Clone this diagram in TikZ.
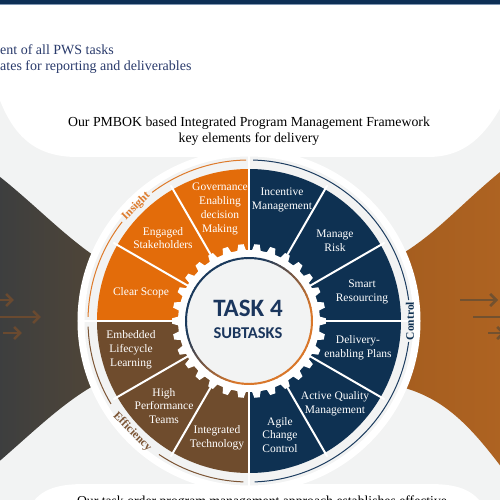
\documentclass[tikz,border=0pt]{standalone}
\usepackage{fontspec}
\setmainfont{Liberation Serif}
\newfontfamily\taskfont{Carlito}
\usetikzlibrary{arrows.meta}
\definecolor{bandnavy}{HTML}{0D2F55}
\definecolor{bandline}{HTML}{8097B3}
\definecolor{introblue}{HTML}{2A3B6C}
\definecolor{bggrey}{HTML}{F2F3F3}
\definecolor{fandark}{HTML}{3C3E3F}
\definecolor{fanmid}{HTML}{4F4538}
\definecolor{fanorange}{HTML}{A65E1F}
\definecolor{fanorangeb}{HTML}{AE6322}
\definecolor{arrowbrown}{HTML}{6A4A30}
\definecolor{arrowbrownb}{HTML}{73512F}
\definecolor{segorange}{HTML}{E36C0A}
\definecolor{segnavy}{HTML}{0E3152}
\definecolor{segbrown}{HTML}{6F4C2D}
\definecolor{arcorange}{HTML}{DE7A2A}
\definecolor{arcnavy}{HTML}{1D3D60}
\definecolor{arcbrown}{HTML}{7C5535}
\definecolor{tasknavy}{HTML}{1B365D}
\definecolor{ringnavy}{HTML}{1B3A5C}
\definecolor{ringorange}{HTML}{D9772A}
\tikzset{
  segtext/.style= {text=white, align=center, inner sep=0, font=\fontsize{11.5}{13.8}\selectfont},
  arclabel/.style= {inner sep=0, font=\fontsize{11.5}{12}\selectfont\bfseries},
  divider/.style= {white, line width=2pt, line cap=round},
  quarter/.style= {white, line width=2.6pt},
  arcline/.style= {line width=1pt},
  flow/.style= {line width=2.6pt, -{Straight Barb[length=6pt,width=12pt]}},
}

\begin{document}
\begin{tikzpicture}[x=1pt, y=1pt]
  \useasboundingbox (-249,-179) rectangle (251,321);
  \clip (-249,-179) rectangle (251,321);
  \fill[white] (-249,-179) rectangle (251,321);
  \fill[bggrey] (-249,-179) rectangle (251,260);
  \fill[white] (-259,326) -- (-259,251) .. controls (-244,196) and (-224,165) .. (-174,164)
    -- (181,164) .. controls (221,165) and (241,191) .. (261,231) -- (261,326) -- cycle;
  \fill[white] (-221,-189) .. controls (-211,-169) and (-194,-163) .. (-164,-163)
    -- (181,-163) .. controls (213,-163) and (227,-171) .. (237,-189) -- cycle;
  \fill[bandnavy] (-249,317) rectangle (251,321);
  \draw[bandline, line width=0.8pt] (-249,316.6) -- (251,316.6);

  \node[anchor=west, align=left, inner sep=0, text=introblue, font=\fontsize{14}{15.7}\selectfont] (intro) at (-249,261.6)
    {ent of all PWS tasks\\ates for reporting and deliverables};
  \node[align=center, inner sep=0, font=\fontsize{13.8}{15.6}\selectfont] (title) at (0,190)
    {Our PMBOK based Integrated Program Management Framework\\key elements for delivery};
  \node[anchor=base, inner sep=0, font=\fontsize{13.7}{16}\selectfont] (approach) at (13,-184)
    {Our task order program management approach establishes effective};

  \shade[left color=fandark, right color=fanmid] (-254,148) .. controls (-219,121) and (-189,89) .. (-156,66)
    -- (-156,-65) .. controls (-189,-84) and (-219,-114) .. (-254,-144) -- cycle;
  \shade[left color=fanorange, right color=fanorangeb] (256,153) .. controls (216,121) and (191,91) .. (156,69)
    -- (156,-67) .. controls (196,-79) and (221,-104) .. (256,-151) -- cycle;

  \coordinate (lin1) at (-254,21);  \coordinate (lout1) at (-235,21);
  \coordinate (lin2) at (-254,4);   \coordinate (lout2) at (-208,4);
  \coordinate (lin3) at (-246,-12); \coordinate (lout3) at (-227,-12);
  \coordinate (rin1) at (211,21);   \coordinate (rout1) at (249,21);
  \coordinate (rin2) at (224,4);    \coordinate (rout2) at (271,4);
  \coordinate (rin3) at (239,-12);  \coordinate (rout3) at (256,-12);
  \foreach \i in {1,2,3} {
    \draw[flow, arrowbrown] (lin\i) -- (lout\i);
    \draw[flow, arrowbrownb] (rin\i) -- (rout\i);
  }

  \fill[bggrey] (0,0) circle[radius=165pt];
  \draw[white, line width=7pt] (0,0) circle[radius=168pt];

  \fill[segorange] (0,0) -- (90:152pt) arc[start angle=90, end angle=180, radius=152pt] -- cycle;
  \fill[segbrown] (0,0) -- (180:152pt) arc[start angle=180, end angle=270, radius=152pt] -- cycle;
  \fill[segnavy] (0,0) -- (270:152pt) arc[start angle=270, end angle=450, radius=152pt] -- cycle;
  \foreach \a in {30,60,120,150,210,240,300,330}
    \draw[divider] (\a:70pt) -- (\a:156pt);
  \foreach \a in {0,90,180,270}
    \draw[quarter] (\a:70pt) -- (\a:166pt);

  \fill[white] (0:71pt) \foreach \i in {0,...,29} {
    -- ({\i*12-3.5}:71pt) -- ({\i*12-2}:77pt) -- ({\i*12+2}:77pt) -- ({\i*12+3.5}:71pt)
  } -- cycle;
  \fill[bggrey] (0,0) circle[radius=63pt];
  \foreach \a in {0,4,...,356} {
    \pgfmathtruncatemacro\mixp{max(0,min(100,50+90*cos(\a+2-135)))}
    \draw[line width=2pt, ringnavy!\mixp!ringorange] (\a:63pt) arc[start angle=\a, end angle=\a+4.5, radius=63pt];
  }
  \node[inner sep=0, text=tasknavy, font=\taskfont\bfseries\fontsize{25}{28}\selectfont] (task) at (-1,13) {TASK 4};
  \node[inner sep=0, text=tasknavy, font=\taskfont\bfseries\fontsize{16.5}{18}\selectfont] (sub) at (-1,-12) {SUBTASKS};

  \node[segtext] (govern) at (-29,112) {Governance\\Enabling\\decision\\Making};
  \node[segtext] (engaged) at (-86,83) {Engaged\\Stakeholders};
  \node[segtext] (scope) at (-108,28) {Clear Scope};
  \node[segtext] (incentive) at (33,121) {Incentive\\Management};
  \node[segtext] (risk) at (86,80) {Manage\\Risk};
  \node[segtext] (resourcing) at (113,29) {Smart\\Resourcing};
  \node[segtext] (plans) at (109,-27) {Delivery-\\enabling Plans};
  \node[segtext] (quality) at (86,-83) {Active Quality\\Management};
  \node[segtext] (agile) at (31,-114) {Agile\\Change\\Control};
  \node[segtext] (lifecycle) at (-118,-29) {Embedded\\Lifecycle\\Learning};
  \node[segtext] (teams) at (-85,-85) {High\\Performance\\Teams};
  \node[segtext] (technology) at (-32,-117) {Integrated\\Technology};

  \draw[arcline, arcorange] (91:161pt) arc[start angle=91, end angle=127, radius=161pt];
  \draw[arcline, arcorange] (142:161pt) arc[start angle=142, end angle=178.5, radius=161pt];
  \draw[arcline, arcbrown] (182:161pt) arc[start angle=182, end angle=211, radius=161pt];
  \draw[arcline, arcbrown] (236:161pt) arc[start angle=236, end angle=268, radius=161pt];
  \draw[arcline, arcnavy] (88.5:161pt) arc[start angle=88.5, end angle=7.5, radius=161pt];
  \draw[arcline, arcnavy] (-7.5:161pt) arc[start angle=-7.5, end angle=-88, radius=161pt];
  \node[arclabel, text=arcorange, rotate=45] (insight) at (134.5:161pt) {Insight};
  \node[arclabel, text=segnavy, rotate=90] (control) at (0:161pt) {Control};
  \node[arclabel, text=arcbrown, rotate=-45] (efficiency) at (223.5:161pt) {Efficiency};
\end{tikzpicture}
\end{document}
